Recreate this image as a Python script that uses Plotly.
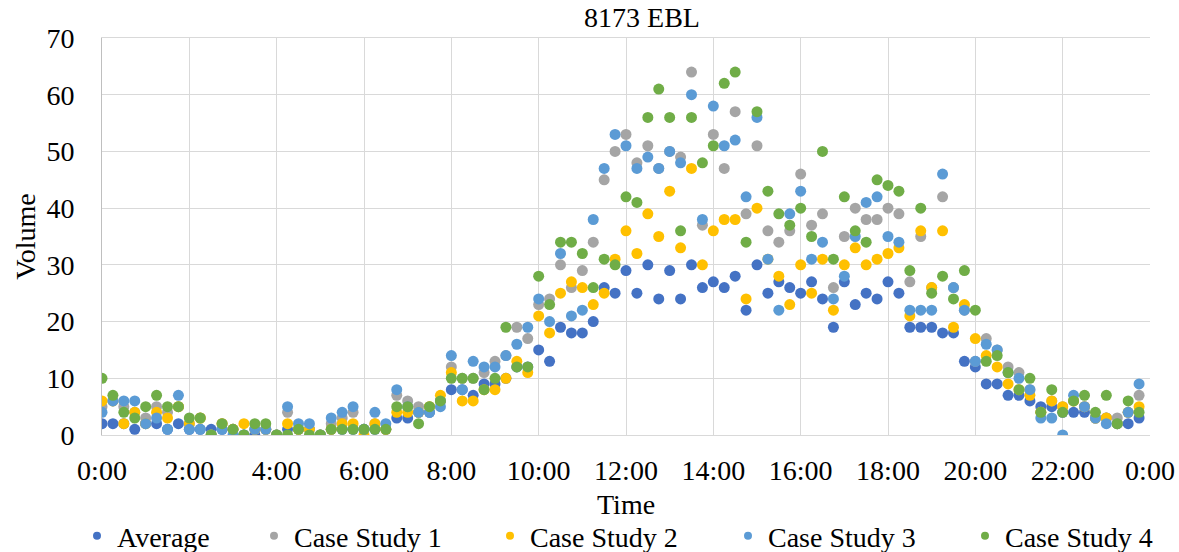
import plotly.graph_objects as go

# 15-minute intervals over one day, expressed in hours
time_hours = [i * 0.25 for i in range(96)]

tick_hours = [0, 2, 4, 6, 8, 10, 12, 14, 16, 18, 20, 22, 24]
tick_labels = ["0:00", "2:00", "4:00", "6:00", "8:00", "10:00", "12:00",
               "14:00", "16:00", "18:00", "20:00", "22:00", "0:00"]

average = [2, 2, 2, 1, 2, 2, 1, 2, 1, 1, 1, 1, 1, 0, 0, 1, 0, 1, 1, 1, 0, 1, 1, 1,
           1, 1, 1, 3, 3, 4, 4, 6, 8, 8, 7, 9, 9, 10, 12, 12, 15, 13, 19, 18, 18, 20, 26, 25,
           29, 25, 30, 24, 29, 24, 30, 26, 27, 26, 28, 22, 30, 25, 27, 26, 25, 27, 24, 19, 27, 23, 25, 24,
           27, 25, 19, 19, 19, 18, 18, 13, 12, 9, 9, 7, 7, 6, 5, 5, 4, 4, 4, 3, 3, 2, 2, 3]

case_study_1 = [5, 6, 5, 4, 3, 5, 4, 5, 2, 3, 0, 2, 1, 0, 1, 1, 0, 4, 1, 1, 0, 2, 3, 4,
                1, 2, 1, 7, 6, 5, 5, 6, 12, 10, 10, 11, 13, 14, 19, 17, 23, 24, 30, 26, 29, 34, 45, 50,
                53, 48, 51, 47, 50, 49, 64, 37, 53, 47, 57, 39, 51, 36, 34, 36, 46, 37, 39, 26, 35, 40, 38, 38,
                40, 39, 27, 35, 26, 42, 26, 22, 13, 17, 15, 12, 11, 8, 4, 6, 5, 6, 5, 3, 3, 3, 4, 7]

case_study_2 = [6, 6, 2, 4, 2, 4, 3, 5, 2, 3, 0, 2, 1, 2, 1, 1, 0, 2, 1, 1, 0, 1, 2, 2,
                0, 2, 1, 4, 4, 4, 5, 7, 11, 6, 6, 8, 8, 10, 13, 11, 21, 18, 25, 27, 26, 23, 25, 31,
                36, 32, 39, 35, 43, 33, 47, 30, 36, 38, 38, 24, 40, 31, 28, 23, 30, 25, 31, 22, 30, 33, 30, 31,
                32, 33, 21, 36, 26, 36, 19, 23, 17, 14, 12, 9, 8, 7, 4, 6, 5, 6, 5, 3, 3, 2, 4, 5]

case_study_3 = [4, 6, 6, 6, 2, 3, 1, 7, 1, 1, 0, 1, 0, 0, 1, 1, 0, 5, 2, 2, 0, 3, 4, 5,
                1, 4, 2, 8, 5, 4, 4, 5, 14, 8, 13, 12, 12, 14, 16, 19, 24, 20, 32, 21, 22, 38, 47, 53,
                51, 47, 49, 47, 50, 48, 60, 38, 58, 51, 52, 42, 56, 31, 22, 39, 43, 31, 34, 24, 28, 35, 41, 42,
                35, 34, 22, 22, 22, 46, 26, 22, 13, 16, 15, 11, 10, 8, 3, 3, 0, 7, 5, 3, 2, 2, 4, 9]

case_study_4 = [10, 7, 4, 3, 5, 7, 5, 5, 3, 3, 0, 2, 1, 0, 2, 2, 0, 0, 1, 0, 0, 1, 1, 1,
                1, 1, 1, 5, 5, 2, 5, 6, 10, 10, 10, 8, 10, 19, 12, 12, 28, 23, 34, 34, 32, 26, 31, 30,
                42, 41, 56, 61, 56, 36, 56, 48, 51, 62, 64, 34, 57, 43, 39, 37, 40, 35, 50, 31, 42, 36, 34, 45,
                44, 43, 29, 40, 25, 28, 24, 29, 22, 13, 14, 11, 8, 10, 4, 8, 4, 6, 7, 4, 7, 2, 6, 4]

series = [
    ("Average", average, "#4472C4"),
    ("Case Study 1", case_study_1, "#A5A5A5"),
    ("Case Study 2", case_study_2, "#FFC000"),
    ("Case Study 3", case_study_3, "#5B9BD5"),
    ("Case Study 4", case_study_4, "#70AD47"),
]

FONT = "Times New Roman, Liberation Serif, serif"
TEXT_SIZE = 28
WIDTH, HEIGHT = 1179, 552

fig = go.Figure()

# scatter points for each series
for name, values, color in series:
    fig.add_trace(go.Scatter(
        x=time_hours, y=values, mode="markers", name=name,
        marker=dict(size=11, color=color, line=dict(width=0)),
        showlegend=False,
    ))

# legend entries, each in its own legend box so they can be spaced freely
legend_x_px = [77, 254, 490, 728, 965]
legend_keys = ["legend", "legend2", "legend3", "legend4", "legend5"]
for (name, values, color), key in zip(series, legend_keys):
    fig.add_trace(go.Scatter(
        x=[None], y=[None], mode="markers", name=name,
        marker=dict(size=8, color=color),
        showlegend=True, legend=key,
    ))

legend_layout = {}
for key, px in zip(legend_keys, legend_x_px):
    legend_layout[key] = dict(
        xref="container", x=px / WIDTH, xanchor="left",
        yref="container", y=1 - 536 / HEIGHT, yanchor="middle",
        orientation="h", bgcolor="rgba(0,0,0,0)",
        font=dict(family=FONT, size=TEXT_SIZE, color="#000000"),
    )

fig.update_layout(
    width=WIDTH, height=HEIGHT,
    margin=dict(l=102, r=29, t=38, b=117, autoexpand=False),
    paper_bgcolor="white", plot_bgcolor="white",
    font=dict(family=FONT, size=TEXT_SIZE, color="#000000"),
    title=dict(text="8173 EBL", x=642 / WIDTH, xanchor="center",
               y=1 - 17 / HEIGHT, yanchor="middle",
               font=dict(family=FONT, size=TEXT_SIZE, color="#000000")),
    xaxis=dict(
        range=[0, 24], tickvals=tick_hours, ticktext=tick_labels,
        showgrid=True, gridcolor="#D9D9D9", gridwidth=1,
        showline=True, linecolor="#D9D9D9", mirror=True,
        zeroline=False, ticks="", ticklabelstandoff=10,
        tickfont=dict(family=FONT, size=TEXT_SIZE),
    ),
    yaxis=dict(
        range=[0, 70], dtick=10,
        showgrid=True, gridcolor="#D9D9D9", gridwidth=1,
        showline=True, linecolor="#BFBFBF", mirror=False,
        zeroline=False, ticks="", ticklabelstandoff=21,
        title=dict(text="Volume", standoff=2,
                   font=dict(family=FONT, size=TEXT_SIZE)),
        tickfont=dict(family=FONT, size=TEXT_SIZE),
    ),
    annotations=[dict(
        text="Time", xref="paper", x=0.5, xanchor="center",
        yref="paper", y=-(504 - 434.6) / 397, yanchor="middle",
        showarrow=False, font=dict(family=FONT, size=TEXT_SIZE, color="#000000"),
    )],
    **legend_layout,
)

fig.write_html("out.html")
